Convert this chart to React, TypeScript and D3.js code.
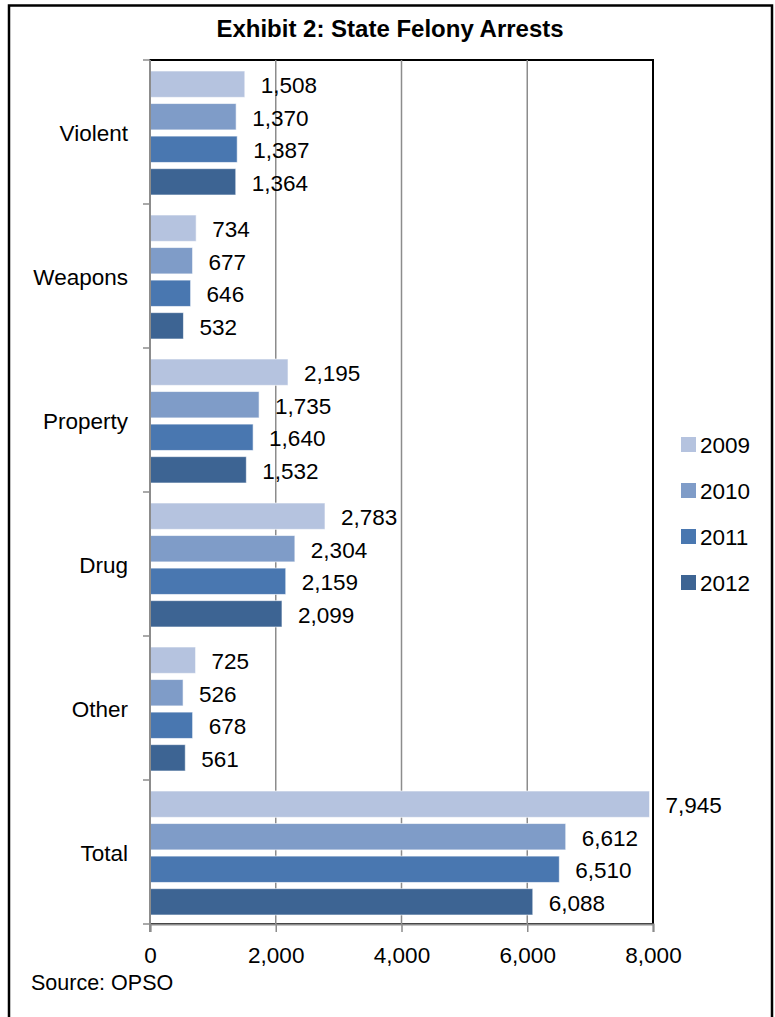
import React, { useEffect, useRef } from "react";
import * as d3 from "d3";

const categories = ["Violent", "Weapons", "Property", "Drug", "Other", "Total"];
const years = ["2009", "2010", "2011", "2012"];
const arrests2009 = [1508, 734, 2195, 2783, 725, 7945];
const arrests2010 = [1370, 677, 1735, 2304, 526, 6612];
const arrests2011 = [1387, 646, 1640, 2159, 678, 6510];
const arrests2012 = [1364, 532, 1532, 2099, 561, 6088];
const xTicks = [0, 2000, 4000, 6000, 8000];

const seriesValues = [arrests2009, arrests2010, arrests2011, arrests2012];
const colors = ["#B5C3DF", "#7F9CC8", "#4977B0", "#3D6493"];

const App: React.FC = () => {
    const svgRef = useRef<SVGSVGElement>(null);

    const width = 775;
    const height = 1017;
    const margin = { top: 60, right: 122, bottom: 93, left: 150 };
    const plotW = width - margin.left - margin.right;
    const plotH = height - margin.top - margin.bottom;
    const font = "'Liberation Sans', Arial, sans-serif";
    const fs = 22.5;

    useEffect(() => {
        if (!svgRef.current) return;
        const svg = d3.select(svgRef.current);
        svg.selectAll("*").remove();

        // outer frame
        svg.append("rect")
            .attr("x", 9)
            .attr("y", 5.5)
            .attr("width", 763)
            .attr("height", 1030)
            .attr("fill", "white")
            .attr("stroke", "black")
            .attr("stroke-width", 2.5);

        svg.append("text")
            .attr("x", 390)
            .attr("y", 37)
            .attr("text-anchor", "middle")
            .attr("font-family", font)
            .attr("font-size", 24)
            .attr("font-weight", "bold")
            .text("Exhibit 2: State Felony Arrests");

        const x = d3.scaleLinear().domain([0, 8000]).range([0, plotW]);
        const y = d3.scaleBand().domain(categories).range([0, plotH]);
        const yInner = d3
            .scaleBand()
            .domain(years)
            .range([11, y.bandwidth() - 9])
            .paddingInner(0.19);

        const g = svg
            .append("g")
            .attr("transform", `translate(${margin.left},${margin.top})`);

        // plot area border
        g.append("rect")
            .attr("width", plotW)
            .attr("height", plotH)
            .attr("fill", "none")
            .attr("stroke", "black")
            .attr("stroke-width", 2);

        // gridlines
        g.selectAll(".grid")
            .data(xTicks.slice(1, -1))
            .enter()
            .append("line")
            .attr("x1", (d) => x(d))
            .attr("x2", (d) => x(d))
            .attr("y1", 0)
            .attr("y2", plotH)
            .attr("stroke", "#8c8c8c")
            .attr("stroke-width", 1.5);

        // bars + value labels
        years.forEach((yr, si) => {
            g.selectAll(`.bar-${yr}`)
                .data(categories)
                .enter()
                .append("rect")
                .attr("x", 0)
                .attr("y", (c) => (y(c) || 0) + (yInner(yr) || 0))
                .attr("width", (c, i) => x(seriesValues[si][i]))
                .attr("height", yInner.bandwidth())
                .attr("fill", colors[si])
                .attr("stroke", "rgba(255,255,255,0.6)")
                .attr("stroke-width", 1);

            g.selectAll(`.label-${yr}`)
                .data(categories)
                .enter()
                .append("text")
                .attr("x", (c, i) => x(seriesValues[si][i]) + 16)
                .attr("y", (c) => (y(c) || 0) + (yInner(yr) || 0) + yInner.bandwidth() / 2)
                .attr("dy", "0.4em")
                .attr("font-family", font)
                .attr("font-size", fs)
                .text((c, i) => d3.format(",")(seriesValues[si][i]));
        });

        // x axis
        const xAxis = g
            .append("g")
            .attr("transform", `translate(0,${plotH})`)
            .call(d3.axisBottom(x).tickValues(xTicks).tickFormat(d3.format(",")).tickSize(8).tickPadding(15));
        xAxis.select(".domain").attr("stroke", "#8c8c8c").attr("stroke-width", 2);
        xAxis.selectAll(".tick line").attr("stroke", "#8c8c8c").attr("stroke-width", 1.5);
        xAxis.selectAll("text")
            .attr("font-family", font)
            .attr("font-size", fs)
            .attr("fill", "black");

        // y axis
        const yAxis = g.append("g");
        yAxis.append("line")
            .attr("x1", 0)
            .attr("x2", 0)
            .attr("y1", 0)
            .attr("y2", plotH + 8)
            .attr("stroke", "#8c8c8c")
            .attr("stroke-width", 2);
        yAxis.selectAll(".ytick")
            .data([...categories.map((c) => y(c) || 0), plotH])
            .enter()
            .append("line")
            .attr("x1", -7)
            .attr("x2", 0)
            .attr("y1", (d) => d)
            .attr("y2", (d) => d)
            .attr("stroke", "#8c8c8c")
            .attr("stroke-width", 1.5);
        yAxis.selectAll(".ylabel")
            .data(categories)
            .enter()
            .append("text")
            .attr("x", -22)
            .attr("y", (c) => (y(c) || 0) + y.bandwidth() / 2)
            .attr("dy", "0.38em")
            .attr("text-anchor", "end")
            .attr("font-family", font)
            .attr("font-size", fs)
            .text((c) => c);

        // legend
        const legend = svg.append("g").attr("transform", "translate(681,437)");
        years.forEach((yr, i) => {
            legend.append("rect")
                .attr("x", 0)
                .attr("y", i * 46)
                .attr("width", 15)
                .attr("height", 15)
                .attr("fill", colors[i]);
            legend.append("text")
                .attr("x", 19)
                .attr("y", i * 46 + 16)
                .attr("font-family", font)
                .attr("font-size", fs)
                .text(yr);
        });

        svg.append("text")
            .attr("x", 31)
            .attr("y", 990)
            .attr("font-family", font)
            .attr("font-size", 21.5)
            .text("Source: OPSO");
    }, []);

    return (
        <svg
            ref={svgRef}
            width={width}
            height={height}
            style={{ position: "absolute", left: 0, top: 0 }}
        />
    );
};

export default App;
